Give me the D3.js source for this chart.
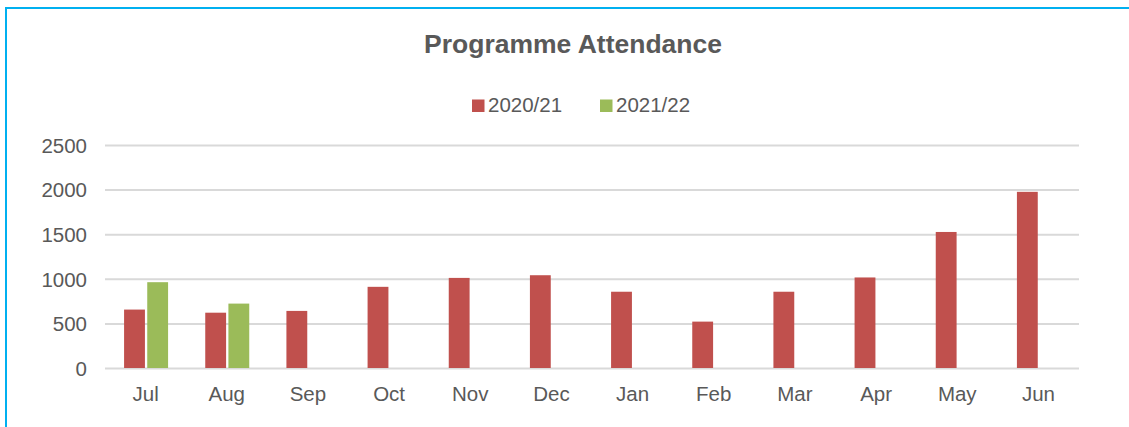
<!DOCTYPE html>
<html>
<head>
<meta charset="utf-8">
<script src="https://cdn.jsdelivr.net/npm/d3@7"></script>
<style>
  body { margin: 0; background: #fff; }
  text { font-family: 'Liberation Sans', Arial, sans-serif; fill: #595959; }
  .y-axis .domain, .x-axis .domain { display: none; }
  .y-axis line { stroke: #d9d9d9; stroke-width: 2; }
  .x-axis line { display: none; }
</style>
</head>
<body>
<div id="chart"></div>
<script>
const months = ['Jul', 'Aug', 'Sep', 'Oct', 'Nov', 'Dec', 'Jan', 'Feb', 'Mar', 'Apr', 'May', 'Jun']
const series = ['2020/21', '2021/22']
const values2021 = [655, 620, 640, 910, 1010, 1040, 855, 520, 855, 1015, 1525, 1975]
const values2122 = [962, 722, null, null, null, null, null, null, null, null, null, null]
const yTicks = [0, 500, 1000, 1500, 2000, 2500]
const colors = ['#c0504d', '#9bbb59']

const W = 1129
const H = 427
const margin = { top: 145, right: 50, bottom: 59, left: 105 }
const width = W - margin.left - margin.right
const height = H - margin.top - margin.bottom

const svg = d3
  .select('#chart')
  .append('svg')
  .attr('width', W)
  .attr('height', H)

// outer frame (top + left edge only visible)
svg.append('rect')
  .attr('x', 6).attr('y', 8)
  .attr('width', W + 10).attr('height', H + 10)
  .attr('fill', 'none')
  .attr('stroke', '#00b0f0')
  .attr('stroke-width', 2)

svg.append('text')
  .text('Programme Attendance')
  .attr('x', 573)
  .attr('y', 53)
  .attr('text-anchor', 'middle')
  .attr('font-size', 26.5)
  .attr('font-weight', 'bold')

const g = svg.append('g')
  .attr('transform', 'translate(' + margin.left + ',' + margin.top + ')')

const x0 = d3.scaleBand().domain(months).range([0, width])
const x1 = d3.scaleBand().domain(series).range([x0.bandwidth() / 2 - 21.5, x0.bandwidth() / 2 + 22.5]).paddingInner(0.1)
const y = d3.scaleLinear().domain([0, 2500]).range([height, 0])

const yAxis = d3.axisLeft(y)
  .tickValues(yTicks)
  .tickFormat(d3.format('d'))
  .tickSize(-width)
  .tickPadding(18)

g.append('g')
  .attr('class', 'axis y-axis')
  .call(yAxis)
  .selectAll('text')
  .attr('font-size', 20.5)
  .attr('dy', '0.36em')

g.append('g')
  .attr('class', 'axis x-axis')
  .attr('transform', 'translate(0,' + height + ')')
  .call(d3.axisBottom(x0).tickSize(0).tickPadding(18))
  .selectAll('text')
  .attr('font-size', 20.5)

const rows = months.map((m, i) => ({
  month: m,
  vals: [
    { key: series[0], v: values2021[i] },
    { key: series[1], v: values2122[i] }
  ].filter(d => d.v !== null)
}))

g.selectAll('.month')
  .data(rows)
  .enter()
  .append('g')
  .attr('class', 'month')
  .attr('transform', d => 'translate(' + x0(d.month) + ',0)')
  .selectAll('rect')
  .data(d => d.vals)
  .enter()
  .append('rect')
  .attr('x', d => x1(d.key))
  .attr('width', x1.bandwidth())
  .attr('y', d => y(d.v))
  .attr('height', d => height - y(d.v))
  .attr('fill', d => colors[series.indexOf(d.key)])

// legend
const legend = svg.append('g')
const legendX = [472, 600]
series.forEach((s, i) => {
  legend.append('rect')
    .attr('x', legendX[i]).attr('y', 99.5)
    .attr('width', 12.5).attr('height', 12.5)
    .attr('fill', colors[i])
  legend.append('text')
    .text(s)
    .attr('x', legendX[i] + 16)
    .attr('y', 112)
    .attr('font-size', 20.5)
})
</script>
</body>
</html>
